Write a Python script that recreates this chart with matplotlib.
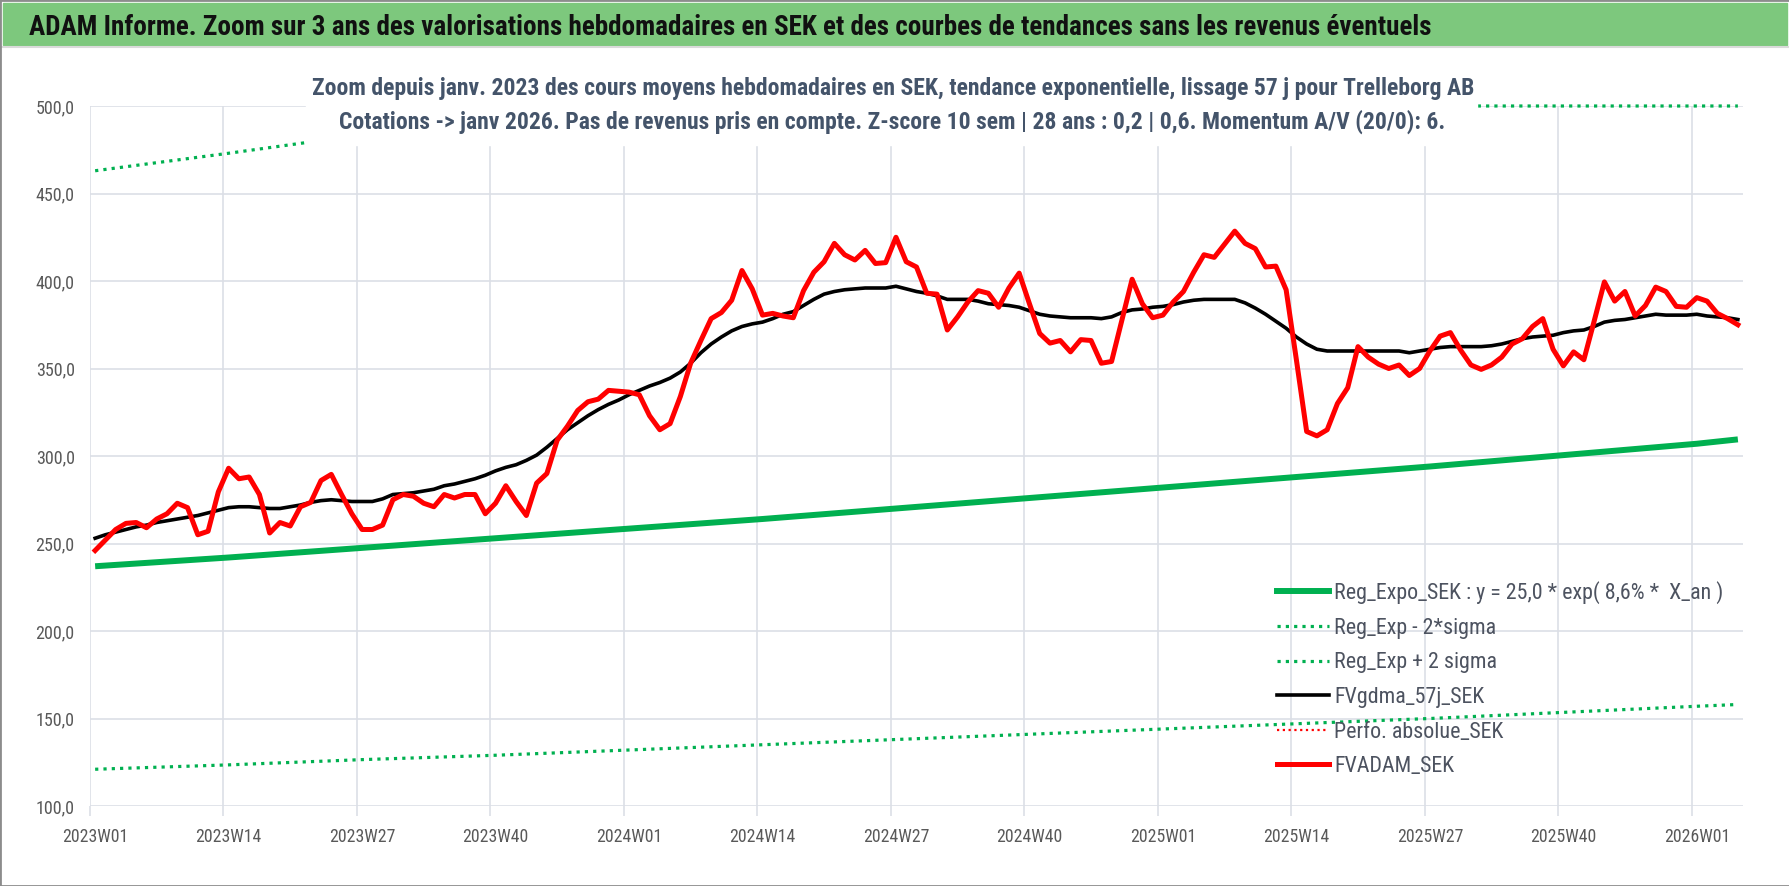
import numpy as np
import matplotlib
matplotlib.use("Agg")
import matplotlib.pyplot as plt
from matplotlib import font_manager
from matplotlib.lines import Line2D
from matplotlib.patches import Rectangle

# --- data ---------------------------------------------------------------
weeks = [f"{y}W{w:02d}" for y in (2023, 2024, 2025) for w in range(1, 53)] + \
        [f"2026W{w:02d}" for w in range(1, 6)]

fvadam_sek = [
    246, 252, 258, 261.5, 262, 259, 264, 267, 273, 270.5, 255, 257, 279.5, 293, 287, 288,
    278, 256, 262, 260, 271, 273.5, 286, 289.5, 278, 267, 258, 258, 260.5, 275, 278, 277,
    273, 271, 278, 276, 278, 278, 267, 273, 283, 274, 266, 284.5,
    290, 309, 317, 326, 331, 332.5, 337.5, 337, 336.5, 335, 323, 315, 318.5, 334, 353, 366,
    378.5, 382, 389, 406, 395.5, 380.5, 381.5, 380, 379, 394.5, 405, 411, 421.5, 415, 412,
    417.5, 410, 410.5, 425, 411, 408, 393, 392.5, 372, 379.5, 388, 394.5,
    393, 385, 396, 404.5, 387, 370, 364.5, 366, 359.5, 366.5, 366, 353, 354, 377.5, 401, 387,
    379, 380.5, 388, 394, 405, 415, 413.5, 421, 428.5, 421.5, 418.5, 408, 408.5, 395, 355,
    314, 311.5, 315, 330, 339, 362.5, 356.5, 352.5,
    350, 352, 346, 350, 360, 368.5, 370.5, 360.5, 352, 349.5, 352, 356.5, 364, 367, 374,
    378.5, 361, 351.5, 359.5, 355, 377, 399.5, 388.5, 394, 380, 386, 396.5, 394, 385.5, 385,
    390.5, 388.5, 381.5, 378.5, 375,
]
fvgdma_57j = [
    253, 255, 256.5, 258, 259.5, 260.5, 262, 263, 264, 265, 266, 267.5, 269, 270.5, 271, 271,
    270.5, 270, 270, 271, 272, 273.5, 274.5, 275, 274.5, 274, 274, 274, 275.5, 278, 278.5,
    279, 280, 281, 283, 284, 285.5, 287, 289, 291.5, 293.5, 295, 297.5, 300.5,
    305, 310, 315, 319, 323, 326.5, 329.5, 332, 335, 337.5, 340, 342, 344.5, 348, 353, 359,
    364, 368, 371.5, 374, 375.5, 376.5, 378.5, 381, 382.5, 386, 389.5, 392.5, 394, 395,
    395.5, 396, 396, 396, 397, 395.5, 394, 393, 391.5, 389.5, 389.5, 389.5, 388.5,
    387, 386.5, 386, 385, 383, 381, 380, 379.5, 379, 379, 379, 378.5, 379.5, 382, 383.5, 384,
    385, 385.5, 386.5, 388, 389, 389.5, 389.5, 389.5, 389.5, 387.5, 384.5, 381, 377, 373,
    368, 364, 361, 360, 360, 360, 360, 360, 360,
    360, 360, 359, 360, 361, 362, 362.5, 362.5, 362.5, 362.5, 363, 364, 365.5, 367, 368,
    368.5, 369, 370.5, 371.5, 372, 374, 376.5, 377.5, 378, 379, 380, 381, 380.5, 380.5,
    380.5, 381, 380, 379.5, 379, 378,
]

# trend lines read at the labelled weeks
trend_idx = [0, 13, 26, 39, 52, 65, 78, 91, 104, 117, 130, 143, 156, 160]
reg_expo = [237, 242, 247.5, 253, 258.5, 264, 270, 276, 282, 288, 294, 300.5, 307, 309.5]
reg_minus = [121, 123.5, 126.5, 129, 132, 135, 138, 141, 144, 147, 150, 153.5, 157, 158]
plus_idx = [0, 13, 26, 39, 46, 160]
reg_plus = [463, 473, 483.5, 494, 500, 500]

label_step = 13

title = "ADAM Informe. Zoom sur 3 ans des valorisations hebdomadaires en SEK et des courbes de tendances sans les revenus éventuels"
sub1 = "Zoom depuis janv. 2023 des cours moyens hebdomadaires en SEK, tendance exponentielle, lissage 57 j pour Trelleborg AB"
sub2 = "Cotations -> janv 2026. Pas de revenus pris en compte. Z-score 10 sem | 28 ans : 0,2 | 0,6. Momentum A/V (20/0): 6."


# --- font: a narrow sans if one is installed ------------------------------
def pick_font():
    fl = font_manager.fontManager.ttflist
    names = {f.name for f in fl}
    for n in ["Liberation Sans Narrow", "Roboto Condensed", "Open Sans Condensed",
              "Noto Sans Condensed", "Open Sans SemiCondensed", "Noto Sans SemiCondensed",
              "DejaVu Sans Condensed"]:
        if n in names:
            return n, "normal"
    for n in ["Noto Sans", "Roboto", "Open Sans", "DejaVu Sans"]:
        for f in fl:
            if f.name == n and "condensed" in str(f.stretch) and "extra" not in str(f.stretch):
                return n, f.stretch
    return "Liberation Sans", "normal"


FONT, STRETCH = pick_font()
plt.rcParams["font.family"] = [FONT, "DejaVu Sans"]
plt.rcParams["font.stretch"] = STRETCH

W, H = 1790, 886
fig = plt.figure(figsize=(W / 100, H / 100), dpi=100)
fig.patch.set_facecolor("white")
renderer = fig.canvas.get_renderer()


def fx(px):
    return px / W


def fy(px):
    return 1 - px / H


def fit(t, width_px):
    w = t.get_window_extent(renderer).width
    t.set_fontsize(t.get_fontsize() * width_px / w)
    return t.get_fontsize()


grid_c = "#DCDFE6"
axis_txt = "#595959"

ax = fig.add_axes([fx(90), fy(806), fx(1743) - fx(90), fy(106) - fy(806)])
x = np.arange(len(weeks))

ax.plot(trend_idx, reg_expo, color="#00B050", lw=4.3, solid_capstyle="butt")
ax.plot(trend_idx, reg_minus, color="#00B050", lw=2.3, ls=(0, (1, 1.6)))
ax.plot(plus_idx, reg_plus, color="#00B050", lw=2.3, ls=(0, (1, 1.6)), clip_on=False)
ax.plot(x, fvgdma_57j, color="black", lw=2.6)
ax.plot(x, fvadam_sek, color="#FF0000", lw=3.6)

ax.set_xlim(-0.5, len(weeks) - 0.5)
ax.set_ylim(100, 500)
yt = np.arange(100, 501, 50)
ax.set_yticks(yt)
ax.set_yticklabels([f"{v:.1f}".replace(".", ",") for v in yt])
ax.set_xticks(np.arange(0, len(weeks), label_step) - 0.5)
ax.set_xticklabels([])
ax.set_xticks(np.arange(0, len(weeks), label_step), minor=True)
ax.set_xticklabels([weeks[i] for i in range(0, len(weeks), label_step)], minor=True)
ax.tick_params(axis="x", which="major", length=7, color=grid_c, width=1.2)
ax.tick_params(axis="x", which="minor", length=0, pad=16, labelsize=11, labelcolor=axis_txt)
ax.tick_params(axis="y", length=0, pad=11, labelsize=11, labelcolor=axis_txt)
ax.grid(True, which="major", color=grid_c, lw=1.2)
ax.set_axisbelow(True)
for s in ax.spines.values():
    s.set_visible(False)

# fit tick label sizes
probe = fig.text(0, 0, "2023W01", fontsize=11)
xs = fit(probe, 66)
probe.set_text("500,0")
probe.set_fontsize(11)
ys = fit(probe, 39)
probe.remove()
ax.tick_params(axis="x", which="minor", labelsize=xs)
ax.tick_params(axis="y", labelsize=ys)

# header bar
fig.add_artist(Rectangle((fx(3), fy(45)), fx(1787) - fx(3), fy(3) - fy(45),
                         transform=fig.transFigure, color="#7DC87D", zorder=1))
fig.add_artist(Line2D([fx(0), fx(1790)], [fy(47), fy(47)], transform=fig.transFigure,
                      color="#DADADA", lw=1.5, zorder=1))
t = fig.text(fx(29), fy(35), title, ha="left", va="baseline", fontweight="bold",
             color="#111111", fontsize=20, zorder=4)
fit(t, 1403)

# subtitle box
fig.add_artist(Rectangle((fx(306), fy(145)), fx(1477) - fx(306), fy(60) - fy(145),
                         transform=fig.transFigure, color="white", zorder=2))
t1 = fig.text(fx(893), fy(95), sub1, ha="center", va="baseline", fontweight="bold",
              color="#44546A", fontsize=15, zorder=4)
fit(t1, 1160)
t2 = fig.text(fx(892.5), fy(129), sub2, ha="center", va="baseline", fontweight="bold",
              color="#44546A", fontsize=15, zorder=4)
fit(t2, 1109)

# legend
leg_labels = ["Reg_Expo_SEK : y = 25,0 * exp( 8,6% *  X_an )", "Reg_Exp - 2*sigma",
              "Reg_Exp + 2 sigma", "FVgdma_57j_SEK", "Perfo. absolue_SEK", "FVADAM_SEK"]
probe = fig.text(0, 0, leg_labels[0], fontsize=12)
ls_ = fit(probe, 390)
probe.remove()
handles = [
    Line2D([], [], color="#00B050", lw=4.3),
    Line2D([], [], color="#00B050", lw=2.3, ls=(0, (1, 1.6))),
    Line2D([], [], color="#00B050", lw=2.3, ls=(0, (1, 1.6))),
    Line2D([], [], color="black", lw=2.6),
    Line2D([], [], color="#FF0000", lw=1.6, ls=(0, (1, 1.6))),
    Line2D([], [], color="#FF0000", lw=3.6),
]
fpx = ls_ / 0.72
leg = fig.legend(handles, leg_labels, loc="upper left", bbox_to_anchor=(fx(1277), fy(581)),
                 frameon=False, fontsize=ls_, labelcolor="#4D5360", borderpad=0,
                 borderaxespad=0, handlelength=52 / fpx, handletextpad=5 / fpx,
                 labelspacing=0.62)
leg.set_zorder(5)

# outer border
fig.add_artist(Rectangle((0, 0), 1, 1, transform=fig.transFigure, fill=False,
                         edgecolor="#8C8C8C", lw=2, zorder=10))

fig.savefig("out.png", dpi=100)
